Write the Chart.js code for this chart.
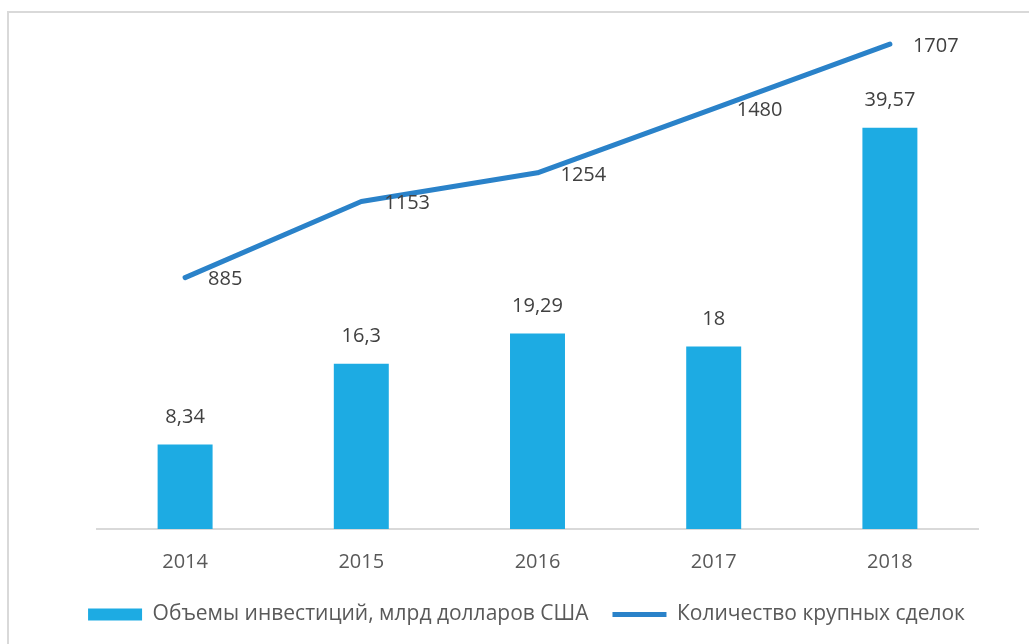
<!DOCTYPE html>
<html>
<head>
<meta charset="utf-8">
<script src="https://cdn.jsdelivr.net/npm/chart.js@4/dist/chart.umd.min.js"></script>
<style>
  html, body { margin: 0; padding: 0; background: #fff; overflow: hidden; }
  .frame {
    position: absolute; left: 7px; top: 11px;
    width: 1100px; height: 700px;
    border: 2px solid #d9d9d9;
  }
  .wrap { position: absolute; left: 0; top: 0; width: 1029px; height: 644px; }
</style>
</head>
<body>
<div class="frame"></div>
<div class="wrap"><canvas id="chartInvest"></canvas></div>
<script>
/* ============================
   Инвестиции / сделки
   ============================ */

const years = ["2014", "2015", "2016", "2017", "2018"];
const investments = [8.34, 16.3, 19.29, 18, 39.57];
const deals = [885, 1153, 1254, 1480, 1707];

const BAR_COLOR = "#1dabe3";
const LINE_COLOR = "#2a82c9";
const TEXT_COLOR = "#595959";
const LABEL_COLOR = "#404040";
const FONT = "'Open Sans', sans-serif";

const fmt = v => String(v).replace(".", ",");

// подписи значений (без плагина datalabels)
const valueLabels = {
  id: "valueLabels",
  afterDatasetsDraw(chart) {
    const ctx = chart.ctx;
    ctx.save();
    ctx.font = `20px ${FONT}`;
    ctx.fillStyle = LABEL_COLOR;

    chart.getDatasetMeta(0).data.forEach((bar, i) => {
      ctx.textAlign = "center";
      ctx.textBaseline = "middle";
      ctx.fillText(fmt(investments[i]), bar.x, bar.y - 27);
    });

    chart.getDatasetMeta(1).data.forEach((pt, i) => {
      ctx.textAlign = "left";
      ctx.textBaseline = "middle";
      ctx.fillText(fmt(deals[i]), pt.x + 23, pt.y + 2);
    });

    ctx.restore();
  }
};

// скрытые оси, задающие только отступы области графика
const hiddenAxis = (min, max, position, width) => ({
  display: true,
  position,
  min, max,
  grid: { display: false },
  border: { display: false },
  ticks: { display: false },
  afterFit: scale => { scale.width = width; }
});

new Chart(document.getElementById("chartInvest"), {
  type: "bar",
  data: {
    labels: years,
    datasets: [
      {
        type: "bar",
        label: "Объемы инвестиций, млрд долларов США",
        data: investments,
        backgroundColor: BAR_COLOR,
        borderWidth: 0,
        categoryPercentage: 1,
        barPercentage: 0.312,
        pointStyle: "rect",
        yAxisID: "y"
      },
      {
        type: "line",
        label: "Количество крупных сделок",
        data: deals,
        borderColor: LINE_COLOR,
        backgroundColor: LINE_COLOR,
        borderWidth: 5,
        borderCapStyle: "round",
        borderJoinStyle: "round",
        pointRadius: 0,
        pointStyle: "line",
        tension: 0,
        yAxisID: "y1"
      }
    ]
  },
  options: {
    responsive: true,
    maintainAspectRatio: false,
    animation: false,
    layout: { padding: { left: 24, right: 0, top: 22, bottom: 9 } },
    plugins: {
      legend: {
        position: "bottom",
        labels: {
          color: TEXT_COLOR,
          font: { family: FONT, size: 21 },
          usePointStyle: true,
          pointStyleWidth: 54,
          boxHeight: 12,
          padding: 24
        }
      },
      tooltip: { enabled: false }
    },
    scales: {
      x: {
        grid: { display: false },
        border: { display: true, color: "#d9d9d9", width: 2 },
        ticks: { color: TEXT_COLOR, font: { family: FONT, size: 20 }, padding: 13 },
        afterFit: scale => { scale.height -= 7; }
      },
      y: hiddenAxis(0, 50, "left", 73),
      y1: hiddenAxis(0, 1785, "right", 51)
    }
  },
  plugins: [valueLabels]
});
</script>
</body>
</html>
